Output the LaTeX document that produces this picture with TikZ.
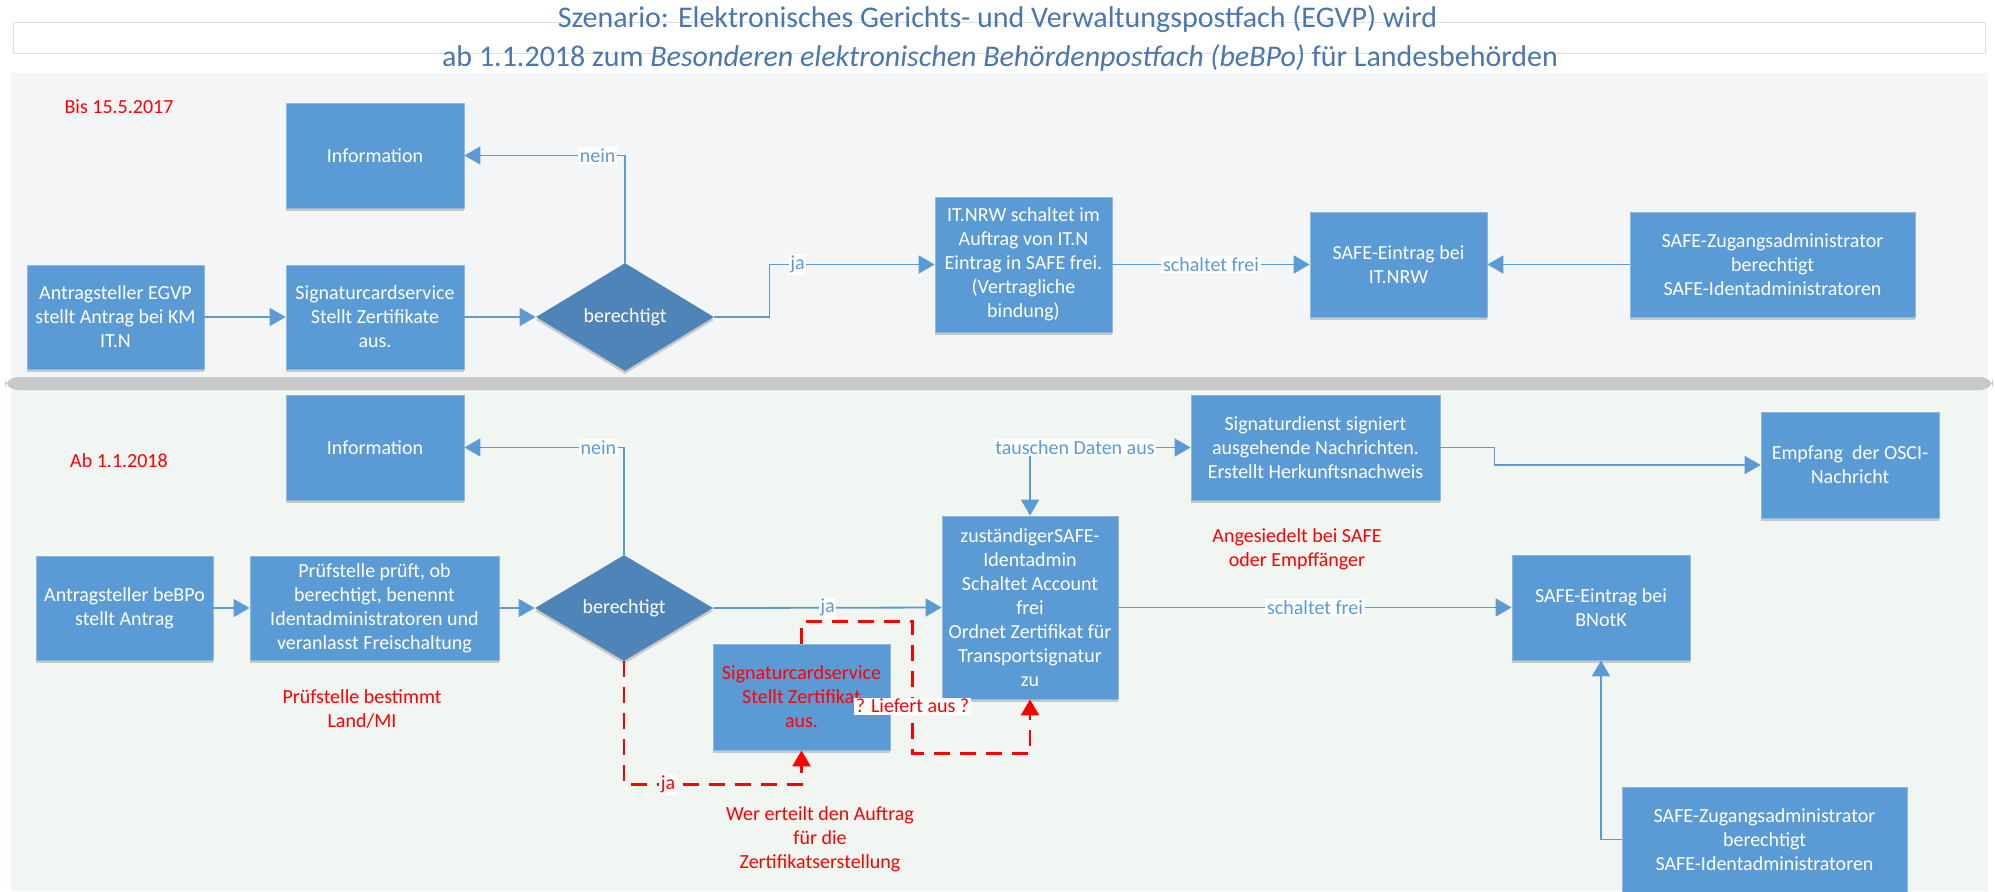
\documentclass[tikz,border=0pt]{standalone}
\usepackage{fontspec}
\setmainfont{Carlito}
\usetikzlibrary{arrows.meta,shapes.geometric,shadows}
\definecolor{boxblue}{HTML}{5B9BD5}
\definecolor{boxedge}{HTML}{8DB8E2}
\definecolor{diablue}{HTML}{4E84B8}
\definecolor{lineblue}{HTML}{5B9BD5}
\definecolor{titleblue}{HTML}{4A77AD}
\definecolor{toppanel}{HTML}{F4F5F7}
\definecolor{botpanel}{HTML}{F2F6F3}
\definecolor{sepgrey}{HTML}{C9C9C9}
\definecolor{alertred}{HTML}{FF0000}
\tikzset{
  boxfont/.style={font=\fontsize{10}{12}\selectfont},
  softshadow/.style={drop shadow={shadow xshift=0pt, shadow yshift=-1.5pt, opacity=0.18, fill=black}},
  procbox/.style={boxfont, rectangle, draw=boxedge, line width=0.4pt, fill=boxblue,
     text=white, align=center, inner sep=0pt, softshadow},
  sz/.style 2 args={minimum width=#1, minimum height=#2},
  decision/.style={boxfont, diamond, fill=diablue, text=white, inner sep=0pt,
     aspect=1.6, minimum width=89pt, minimum height=54pt, softshadow},
  conn/.style={draw=lineblue, line width=0.9pt, -{Triangle[length=8pt,width=9pt]}},
  biconn/.style={draw=lineblue, line width=0.9pt,
     {Triangle[length=8pt,width=9pt]}-{Triangle[length=8pt,width=9pt]}},
  lbl/.style={boxfont, fill=white, text=lineblue, inner sep=0.8pt},
  redlbl/.style={boxfont, fill=white, text=alertred, inner sep=0.8pt},
  redtext/.style={boxfont, text=alertred, align=center},
  reddash/.style={draw=alertred, line width=1.3pt, dash pattern=on 8pt off 5pt,
     -{Triangle[length=8pt,width=9pt]}},
  titlefont/.style={font=\fontsize{15}{18}\selectfont, text=titleblue}
}
\begin{document}
\begin{tikzpicture}[x=0.5pt, y=-0.5pt]
\useasboundingbox (0,0) rectangle (1995,891);
\fill[white] (0,0) rectangle (1995,891);
% title
\draw[black!12, fill=white] (13,22) rectangle (1985,53);
\node[titlefont, anchor=base] (t1) at (997.5,27) {Szenario: Elektronisches Gerichts- und Verwaltungspostfach (EGVP) wird};
\node[titlefont, anchor=base] (t2) at (1000,66) {ab 1.1.2018 zum \textit{Besonderen elektronischen Behördenpostfach (beBPo)} für Landesbehörden};
% panels
\fill[toppanel] (11,73) rectangle (1988,377);
\fill[botpanel] (11,390) rectangle (1988,891);
\fill[sepgrey, rounded corners=6pt] (5,377) rectangle (1993,390);

% ---------- top panel ----------
\node[redtext] (bis) at (119,107) {Bis 15.5.2017};
\node[procbox, sz={89pt}{52.5pt}] (infoA) at (375,155.5) {Information};
\node[procbox, sz={88.5pt}{52pt}] (antA) at (115.5,317) {Antragsteller EGVP\\stellt Antrag bei KM\\IT.N};
\node[procbox, sz={89pt}{52pt}] (sigA) at (375,317) {Signaturcardservice\\Stellt Zertifikate\\aus.};
\node[decision] (diaA) at (625,317) {berechtigt};
\node[procbox, sz={88.5pt}{67.5pt}] (itnrw) at (1023.5,264.5) {IT.NRW schaltet im\\Auftrag von IT.N\\Eintrag in SAFE frei.\\(Vertragliche\\bindung)};
\node[procbox, sz={88.5pt}{52.5pt}] (safeA) at (1398.5,264.5) {SAFE-Eintrag bei\\IT.NRW};
\node[procbox, sz={142.5pt}{52.5pt}] (zugA) at (1772.5,264.5) {SAFE-Zugangsadministrator\\berechtigt\\SAFE-Identadministratoren};

\draw[conn] (antA) -- (sigA);
\draw[conn] (sigA) -- (diaA.west);
\draw[conn] (diaA.north) |- node[lbl, pos=0.585] {nein} (infoA.east);
\draw[conn] (diaA.east) -- ++(55,0) |- node[lbl, pos=0.585] {ja} (itnrw.west);
\draw[conn] (itnrw.east) -- node[lbl] {schaltet frei} (safeA.west);
\draw[conn] (zugA.west) -- (safeA.east);

% ---------- bottom panel ----------
\node[redtext] (ab) at (119,461) {Ab 1.1.2018};
\node[procbox, sz={89pt}{52.5pt}] (infoB) at (375,447.5) {Information};
\node[procbox, sz={88.5pt}{52pt}] (antB) at (124.5,608) {Antragsteller beBPo\\stellt Antrag};
\node[procbox, sz={124.5pt}{52pt}] (pruef) at (374.5,608) {Prüfstelle prüft, ob\\berechtigt, benennt\\Identadministratoren und\\veranlasst Freischaltung};
\node[decision, minimum height=53pt] (diaB) at (624,608) {berechtigt};
\node[redtext] (pruefnote) at (362,709) {Prüfstelle bestimmt\\Land/MI};
\node[procbox, sz={88pt}{91.5pt}] (zust) at (1030,607.5) {zuständigerSAFE-\\Identadmin\\Schaltet Account\\frei\\Ordnet Zertifikat für\\Transportsignatur\\zu};
\node[procbox, sz={124.5pt}{52.5pt}] (sigd) at (1315.5,447.5) {Signaturdienst signiert\\ausgehende Nachrichten.\\Erstellt Herkunftsnachweis};
\node[procbox, sz={89pt}{53pt}] (empf) at (1850,465) {Empfang\ \ der OSCI-\\Nachricht};
\node[redtext] (ansied) at (1297,549.5) {Angesiedelt bei SAFE\\oder Empffänger};
\node[procbox, sz={89pt}{52.5pt}] (bnotk) at (1601,607.5) {SAFE-Eintrag bei\\BNotK};
\node[procbox, sz={142.5pt}{52.5pt}] (zugB) at (1764.5,839.5) {SAFE-Zugangsadministrator\\berechtigt\\SAFE-Identadministratoren};
\node[procbox, sz={88.5pt}{53pt}, text=alertred] (sigc) at (801.5,697) {Signaturcardservice\\Stellt Zertifikat\\aus.};
\node[redtext] (wer) at (820,839.5) {Wer erteilt den Auftrag\\für die\\Zertifikatserstellung};

\draw[conn] (antB) -- (pruef);
\draw[conn] (pruef) -- (diaB.west);
\draw[conn] (diaB.north) |- node[lbl, pos=0.58] {nein} (infoB.east);
\draw[conn] (diaB.east) -- node[lbl] {ja} (zust.west);
\draw[biconn] (zust.north) |- node[lbl, pos=0.64] {tauschen Daten aus} (sigd.west);
\draw[conn] (sigd.east) -- ++(54,0) |- (empf.west);
\draw[conn] (zust.east) -- node[lbl] {schaltet frei} (bnotk.west);
\draw[conn] (zugB.west) -| (bnotk.south);

\draw[reddash] (diaB.south) -- ++(0,123) -| node[redlbl, pos=0.124] {ja} (sigc.south);
\draw[reddash] (sigc.north) -- ++(0,-22) -| node[redlbl, pos=0.82] {? Liefert aus ?} ++(111,132) -| (zust.south);
\end{tikzpicture}
\end{document}
